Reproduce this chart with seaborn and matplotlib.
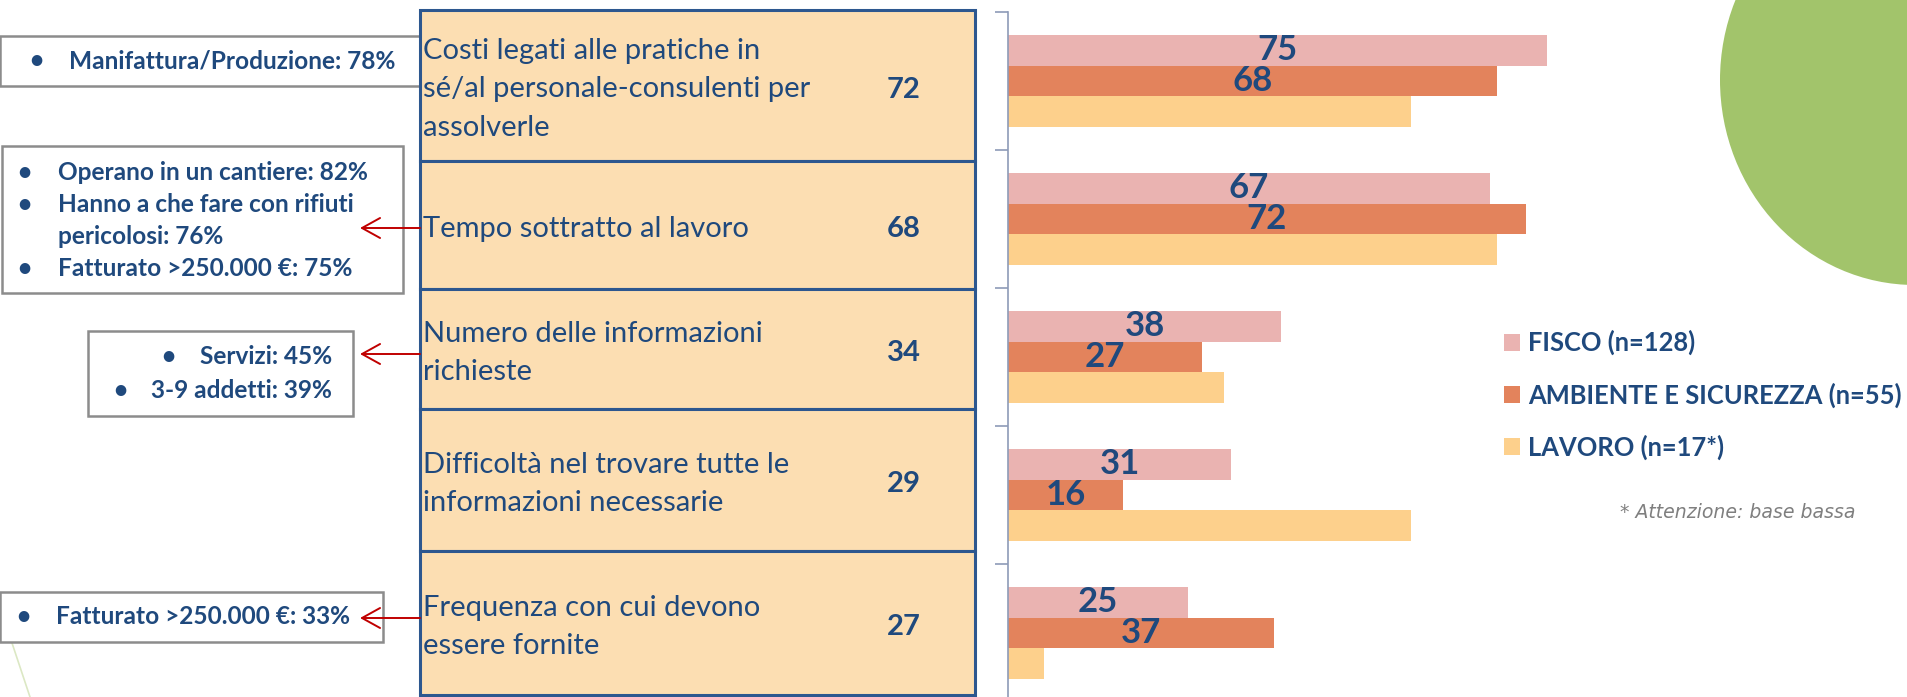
import numpy as np
import pandas as pd
import matplotlib
matplotlib.use("Agg")
import matplotlib.pyplot as plt
import seaborn as sns
from matplotlib.patches import Rectangle, Ellipse

# ---------------- data ----------------
categories = [
    "Costi legati alle pratiche in\nsé/al personale-consulenti per\nassolverle",
    "Tempo sottratto al lavoro",
    "Numero delle informazioni\nrichieste",
    "Difficoltà nel trovare tutte le\ninformazioni necessarie",
    "Frequenza con cui devono\nessere fornite",
]
totals = [72, 68, 34, 29, 27]
series = ["FISCO (n=128)", "AMBIENTE E SICUREZZA (n=55)", "LAVORO (n=17*)"]
fisco = [75, 67, 38, 31, 25]
ambiente = [68, 72, 27, 16, 37]
lavoro = [56, 68, 30, 56, 5]
footnote = "* Attenzione: base bassa"

note_manifattura = ["Manifattura/Produzione: 78%"]
note_tempo = ["Operano in un cantiere: 82%",
              "Hanno a che fare con rifiuti\npericolosi: 76%",
              "Fatturato >250.000 €: 75%"]
note_numero = ["Servizi: 45%", "3-9 addetti: 39%"]
note_frequenza = ["Fatturato >250.000 €: 33%"]

# ---------------- style ----------------
sns.set_style("white")
plt.rcParams["font.family"] = ["Lato", "DejaVu Sans"]

NAVY = "#1F497D"
colors = ["#EAB3B1", "#E3835C", "#FDD08C"]

W, H = 1907, 697
fig = plt.figure(figsize=(W / 100, H / 100), dpi=100)

# canvas axes in pixel coordinates for layout elements
cv = fig.add_axes([0, 0, 1, 1])
cv.set_xlim(0, W)
cv.set_ylim(H, 0)
cv.axis("off")

# decorative shapes
cv.add_patch(Ellipse((1915, 80), 390, 410, facecolor="#A2C46B", edgecolor="none", zorder=0))
cv.plot([0, 30], [607, 697], color="#DCE8C4", lw=1.2, zorder=0)

# ---------------- table ----------------
row_edges = [10, 161, 289, 409, 551, 695]
tx0, tx1 = 420, 975
for i, (cat, tot) in enumerate(zip(categories, totals)):
    y0, y1 = row_edges[i], row_edges[i + 1]
    cv.add_patch(Rectangle((tx0, y0), tx1 - tx0, y1 - y0, facecolor="#FCDEB2",
                           edgecolor="#2D578F", lw=2.2, zorder=2))
    yc = (y0 + y1) / 2 + 4
    cv.text(tx0 + 3, yc, cat, ha="left", va="center", fontsize=21,
            color=NAVY, linespacing=1.58, zorder=3)
    cv.text(904, yc, str(tot), ha="center", va="center", fontsize=21,
            fontweight="bold", color=NAVY, zorder=3)

# ---------------- annotation boxes ----------------
BOXC = "#8C8C8C"
def box(x0, y0, x1, y1):
    cv.add_patch(Rectangle((x0, y0), x1 - x0, y1 - y0, facecolor="white",
                           edgecolor=BOXC, lw=1.8, zorder=1))

def arrow(y):
    cv.annotate("", xy=(360, y), xytext=(420, y),
                arrowprops=dict(arrowstyle="->,head_length=0.65,head_width=0.36",
                                color="#C00000", lw=1.4, mutation_scale=20,
                                shrinkA=0, shrinkB=0), zorder=4)

NFS = 17.6
def bullet(x, y):
    cv.text(x, y, "•", ha="center", va="center", fontsize=NFS, fontweight="bold", color=NAVY)

def line(x, y, t, ha="left"):
    return cv.text(x, y, t, ha=ha, va="center", fontsize=NFS, fontweight="bold", color=NAVY)

# box 1
box(0, 36, 420, 86)
bullet(36, 61)
line(69, 61, note_manifattura[0])

# box 2
box(2, 146, 403, 293)
line_ys = [173, 204, 236, 268]
k = 0
for t in note_tempo:
    parts = t.split("\n")
    bullet(24, line_ys[k])
    for p in parts:
        line(58, line_ys[k], p)
        k += 1
arrow(228)

# box 3 (right aligned)
box(88, 331, 353, 416)
ys3 = [356, 390]
txts3 = [line(332, y, t, ha="right") for y, t in zip(ys3, note_numero)]
arrow(354)

# box 4
box(0, 592, 383, 642)
bullet(23, 617)
line(56, 617, note_frequenza[0])
arrow(618)

# ---------------- bar chart ----------------
ax = fig.add_axes([1008 / W, (H - 702) / H, 719 / W, 690 / H])
ax.set_facecolor("none")
df = pd.DataFrame({
    "categoria": categories * 3,
    "serie": [series[0]] * 5 + [series[1]] * 5 + [series[2]] * 5,
    "valore": fisco + ambiente + lavoro,
})
sns.barplot(data=df, y="categoria", x="valore", hue="serie", orient="h",
            palette=colors, saturation=1, width=0.667, linewidth=0, ax=ax,
            errorbar=None)
ax.set_xlim(0, 100)
ax.set_ylim(4.5, -0.5)
ax.set_xlabel("")
ax.set_ylabel("")
ax.set_xticks([])
ax.set_yticks([-0.5, 0.5, 1.5, 2.5, 3.5])
ax.set_yticklabels([])
ax.tick_params(axis="y", length=9.5, width=1.2, color="#8D9BB8", left=True)
for s in ["top", "right", "bottom"]:
    ax.spines[s].set_visible(False)
ax.spines["left"].set_color("#8D9BB8")
ax.spines["left"].set_linewidth(1.2)

for cont, vals in zip(ax.containers[:2], [fisco, ambiente]):
    ax.bar_label(cont, labels=[str(v) for v in vals], label_type="center",
                 fontsize=25, fontweight="bold", color=NAVY)

leg = ax.legend(loc="center left", bbox_to_anchor=(1504 / W, 1 - 395 / H),
                bbox_transform=fig.transFigure, frameon=False, fontsize=18.4,
                handlelength=0.63, handleheight=0.63, handletextpad=0.3,
                labelspacing=1.05, borderpad=0, borderaxespad=0)
for t in leg.get_texts():
    t.set_color(NAVY)
    t.set_fontweight("bold")

cv.text(1855, 512, footnote, ha="right", va="center", fontsize=13.6,
        style="italic", color="#7F7F7F", family="DejaVu Sans")

# bullets for right-aligned box 3
fig.canvas.draw()
r = fig.canvas.get_renderer()
inv = cv.transData.inverted()
for t, y in zip(txts3, ys3):
    bb = t.get_window_extent(renderer=r)
    xstart = inv.transform((bb.x0, bb.y0))[0]
    bullet(xstart - 31, y)

fig.savefig("out.png", dpi=100)
